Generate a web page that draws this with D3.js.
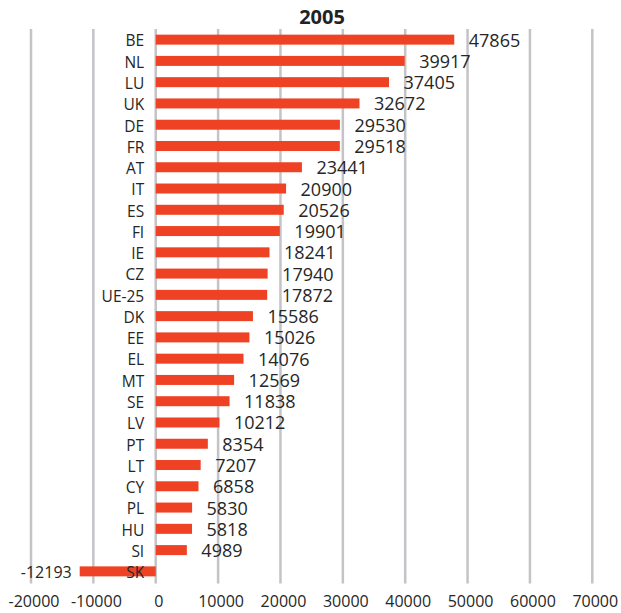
<!DOCTYPE html>
<html>
<head>
<meta charset="utf-8">
<script src="https://cdn.jsdelivr.net/npm/d3@7"></script>
<style>
  html, body { margin: 0; padding: 0; background: #ffffff; }
  svg { display: block; }
</style>
</head>
<body>
<svg id="chart" width="621" height="613"></svg>
<script>
const title = "2005";
const categories = ["BE","NL","LU","UK","DE","FR","AT","IT","ES","FI","IE","CZ","UE-25","DK","EE","EL","MT","SE","LV","PT","LT","CY","PL","HU","SI","SK"];
const values = [47865,39917,37405,32672,29530,29518,23441,20900,20526,19901,18241,17940,17872,15586,15026,14076,12569,11838,10212,8354,7207,6858,5830,5818,4989,-12193];
const tickValues = [-20000,-10000,0,10000,20000,30000,40000,50000,60000,70000];

const data = categories.map((c, i) => ({ cat: c, val: values[i] }));

const svg = d3.select("#chart");
const W = 621, H = 613;
const plot = { left: 31, right: 592.3, top: 29, bottom: 582 };
const barColor = "#ef4224";
const textColor = "#262626";
const gridColor = "#c4c4c8";
const font = "'Open Sans', 'Noto Sans', sans-serif";

const x = d3.scaleLinear().domain([-20000, 70000]).range([plot.left, plot.right]);
const y = d3.scaleBand().domain(categories).range([plot.top, plot.bottom])
  .paddingInner(0.53).paddingOuter(0.265);

svg.append("rect").attr("width", W).attr("height", H).attr("fill", "#fff");

// title
svg.append("text")
  .attr("x", 322).attr("y", 24)
  .attr("text-anchor", "middle")
  .attr("font-family", font)
  .attr("font-weight", "bold")
  .attr("font-size", 20)
  .attr("fill", "#222")
  .text(title);

// gridlines
svg.append("g").selectAll("line")
  .data(tickValues)
  .join("line")
  .attr("x1", d => x(d)).attr("x2", d => x(d))
  .attr("y1", plot.top).attr("y2", plot.bottom + 1.5)
  .attr("stroke", gridColor)
  .attr("stroke-width", 2.5);

// bottom axis (labels only)
const axis = d3.axisBottom(x).tickValues(tickValues).tickSize(0).tickFormat(d => String(d));
const ax = svg.append("g").attr("transform", `translate(0,${plot.bottom})`).call(axis);
ax.select(".domain").remove();
ax.selectAll("text")
  .attr("y", 24.5).attr("dy", 0)
  .attr("x", 2.5)
  .attr("font-family", font)
  .attr("font-size", 16)
  .attr("fill", textColor);

// bars
svg.append("g").selectAll("rect")
  .data(data)
  .join("rect")
  .attr("x", d => x(Math.min(0, d.val)))
  .attr("width", d => Math.abs(x(d.val) - x(0)))
  .attr("y", d => y(d.cat))
  .attr("height", y.bandwidth())
  .attr("fill", barColor);

// category labels
svg.append("g").selectAll("text")
  .data(data)
  .join("text")
  .attr("x", x(0) - 11.5)
  .attr("y", d => y(d.cat) + y.bandwidth() / 2 + 6.8)
  .attr("text-anchor", "end")
  .attr("font-family", font)
  .attr("font-size", 15.5)
  .attr("fill", textColor)
  .text(d => d.cat);

// value labels
svg.append("g").selectAll("text")
  .data(data)
  .join("text")
  .attr("x", d => d.val >= 0 ? x(d.val) + 14.5 : x(d.val) - 8)
  .attr("y", d => y(d.cat) + y.bandwidth() / 2 + (d.val >= 0 ? 7 : 6.5))
  .attr("text-anchor", d => d.val >= 0 ? "start" : "end")
  .attr("font-family", font)
  .attr("font-size", d => d.val >= 0 ? 18 : 16)
  .attr("fill", textColor)
  .text(d => String(d.val));
</script>
</body>
</html>
